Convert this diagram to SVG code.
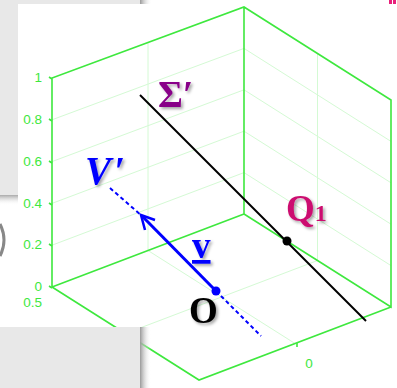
<svg xmlns="http://www.w3.org/2000/svg" width="397" height="388" viewBox="0 0 397 388">
<style>
.grid{stroke:#d4fad4;stroke-width:1;fill:none}
.axis{stroke:#3ee83e;stroke-width:1.6;fill:none}
.tick{fill:#3ee83e;font-family:"Liberation Sans",Arial,sans-serif;font-size:13.5px}
.lbl{font-family:"Liberation Serif","Times New Roman",serif;font-weight:bold;filter:url(#sh)}
</style>
<defs>
<filter id="sh" x="-30%" y="-30%" width="160%" height="160%">
<feDropShadow dx="2" dy="2" stdDeviation="1.5" flood-color="#000" flood-opacity="0.35"/>
</filter>
<linearGradient id="gx" x1="0" y1="0" x2="1" y2="0">
<stop offset="0" stop-color="#999"/><stop offset="1" stop-color="#fff" stop-opacity="0"/>
</linearGradient>
<linearGradient id="gy" x1="0" y1="0" x2="0" y2="1">
<stop offset="0" stop-color="#aaa"/><stop offset="1" stop-color="#fff" stop-opacity="0"/>
</linearGradient>
</defs>
<rect width="397" height="388" fill="#fff"/>
<g id="panels">
<rect x="0" y="0" width="140" height="4" fill="#e8e8e8"/>
<rect x="0" y="0" width="18" height="195" fill="#e8e8e8"/>
<rect x="140" y="0" width="12" height="4" fill="url(#gx)"/>
<rect x="0" y="195" width="18" height="10" fill="url(#gy)"/>
<path d="M0,224 Q8,240 0,256" stroke="#888" stroke-width="3" fill="none"/>
<rect x="389" y="0" width="3" height="4" fill="#e8207a"/>
<rect x="393" y="0" width="3" height="4" fill="#e8207a"/>
</g>
<g id="grid">
<path class="grid" d="M52,245.2L244,172.6L391,265.6 M52,203.4L244,131.2L391,224.2 M52,161.6L244,89.8L391,182.8 M52,119.8L244,48.4L391,141.4 M148,250.5V42.5 M317.5,260.5V53.5 M148,250.5L295,343.5 M125.5,333.5L317.5,260.5"/>
</g>
<g id="axes">
<path class="axis" d="M52,287V78L244,7L391,100V307L244,214V7 M52,287L244,214 M52,287L199,380L391,307"/>
<path class="axis" stroke-width="1" d="M49,77L52,79 M49,119L52,121 M49,161L52,163 M49,203L52,205 M49,244L52,246 M49,286L52,288 M297,347V343"/>
<text class="tick" x="42" y="82" text-anchor="end">1</text>
<text class="tick" x="42" y="124" text-anchor="end">0.8</text>
<text class="tick" x="42" y="166" text-anchor="end">0.6</text>
<text class="tick" x="42" y="207.5" text-anchor="end">0.4</text>
<text class="tick" x="42" y="249" text-anchor="end">0.2</text>
<text class="tick" x="42" y="291" text-anchor="end">0</text>
<text class="tick" x="42" y="307" text-anchor="end">0.5</text>
<text class="tick" x="309" y="368" text-anchor="middle">0</text>
</g>
<g id="panel-bottom">
<rect x="0" y="327" width="140" height="61" fill="#e8e8e8"/>
<rect x="140" y="327" width="11" height="61" fill="url(#gx)"/>
</g>
<g id="connectors">
<line x1="140" y1="95" x2="366" y2="321" stroke="#000" stroke-width="2"/>
<line x1="110" y1="188" x2="142" y2="216" stroke="#0000ff" stroke-width="2" stroke-dasharray="4,3"/>
<line x1="216" y1="291" x2="261" y2="336" stroke="#0000ff" stroke-width="2" stroke-dasharray="4,3"/>
<line x1="143" y1="217" x2="216" y2="291" stroke="#0000ff" stroke-width="3"/>
<path d="M155,220L141,215L145,230" stroke="#0000ff" stroke-width="2.5" fill="none"/>
</g>
<g id="node-Q1">
<circle cx="287" cy="241" r="4.5" fill="#000"/>
<text class="lbl" x="286" y="221" fill="#cc1070" font-size="37">Q<tspan font-size="24">1</tspan></text>
</g>
<g id="node-O">
<circle cx="216" cy="291" r="4.5" fill="#0000ff"/>
<text class="lbl" x="189" y="323" fill="#000" font-size="37">O</text>
</g>
<g id="node-sigma">
<text class="lbl" x="158" y="107" fill="#880088" font-size="38">Σ′</text>
</g>
<g id="node-Vprime">
<text class="lbl" x="85" y="184" fill="#0000ff" font-size="39" font-style="italic">V<tspan dx="3">′</tspan></text>
</g>
<g id="node-v">
<text class="lbl" x="192" y="258" fill="#0000ff" font-size="37" text-decoration="underline">v</text>
</g>
</svg>
